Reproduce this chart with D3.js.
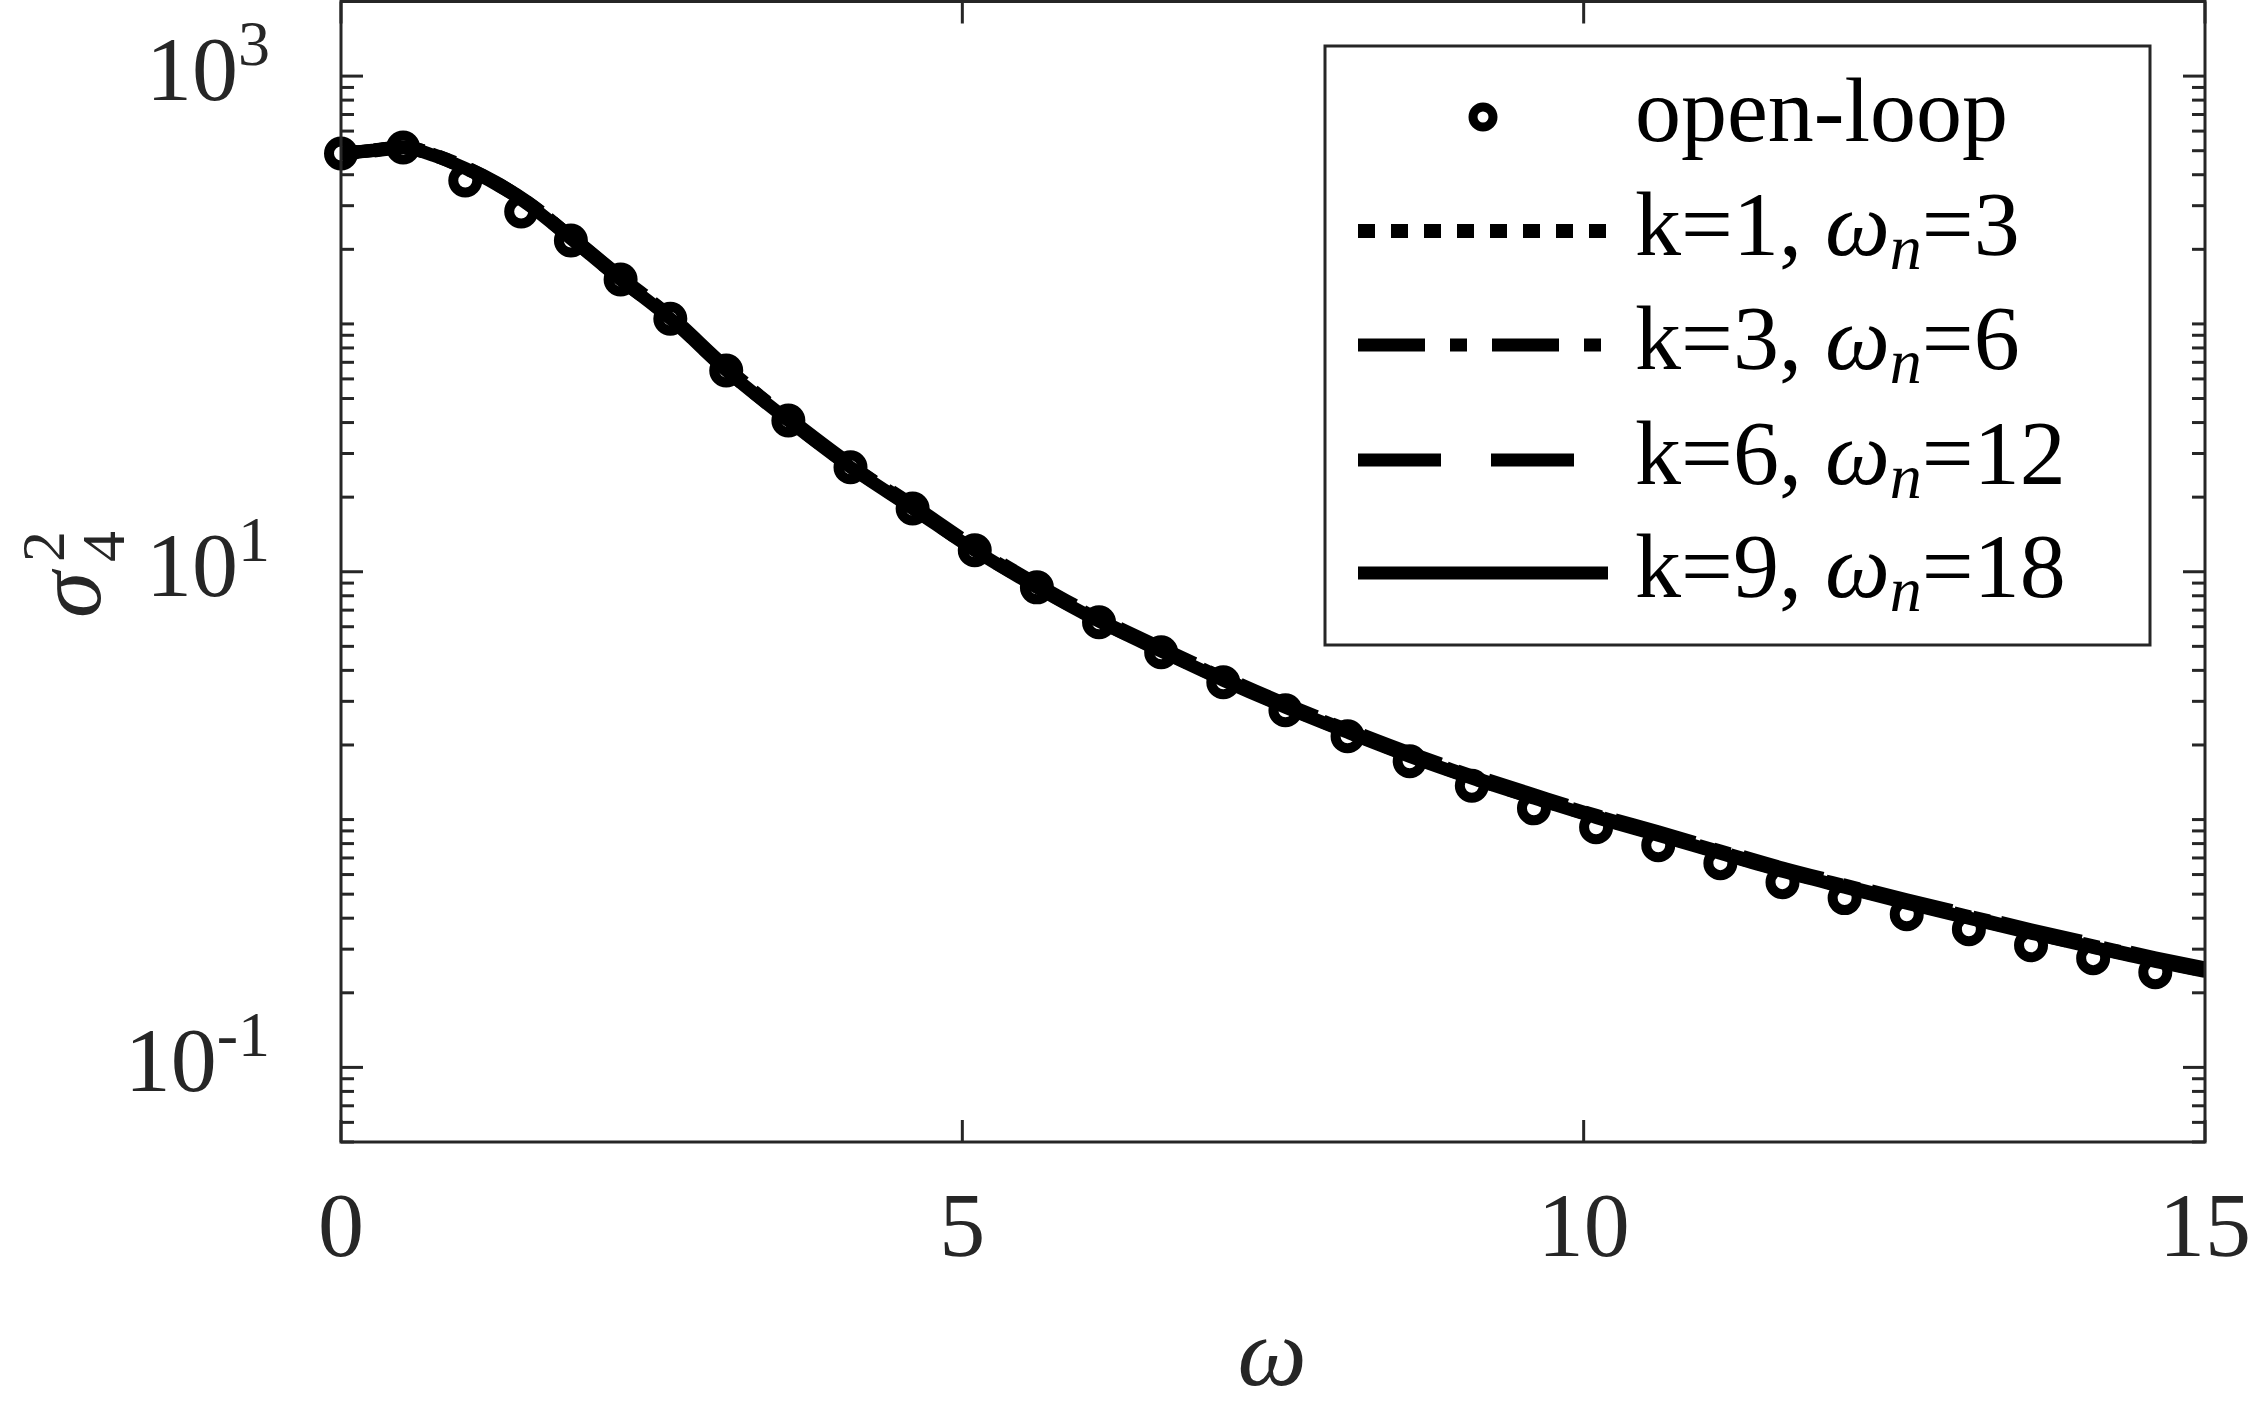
<!DOCTYPE html>
<html>
<head>
<meta charset="utf-8">
<script src="https://cdn.jsdelivr.net/npm/d3@7"></script>
<style>
  html, body { margin: 0; padding: 0; background: #fff; }
  svg { display: block; }
  text { font-family: "Liberation Serif", "Times New Roman", serif; white-space: pre; }
</style>
</head>
<body>
<svg id="chart" width="2250" height="1417"></svg>
<script>
'use strict';

/* ---- data ---- */
// open-loop markers
const olOmega = [0, 0.5, 1.0, 1.45, 1.85, 2.25, 2.65, 3.1, 3.6, 4.1, 4.6, 5.1, 5.6, 6.1, 6.6, 7.1,
                 7.6, 8.1, 8.6, 9.1, 9.6, 10.1, 10.6, 11.1, 11.6, 12.1, 12.6, 13.1, 13.6, 14.1, 14.6];
const olSigma = [487, 515, 379, 284, 217, 151, 105, 64.9, 40.8, 26.4, 18.0, 12.2, 8.65, 6.25, 4.73, 3.58,
                 2.76, 2.17, 1.72, 1.37, 1.11, 0.931, 0.787, 0.667, 0.559, 0.482, 0.415, 0.361, 0.311, 0.276, 0.242];

// closed-loop curves
const lineOmega = [0, 0.25, 0.5, 0.75, 1.0, 1.25, 1.5, 1.85, 2.25, 2.65, 3.1, 3.6, 4.1, 4.6, 5.1, 5.6, 6.1, 6.6,
                   7.1, 7.6, 8.1, 8.6, 9.1, 9.6, 10.1, 10.6, 11.1, 11.6, 12.1, 12.6, 13.1, 13.6, 14.1, 14.6, 15];
const sigmaK1 = [487, 500, 516, 480, 427, 369, 308, 223, 152, 106, 65.5, 41.2, 26.7, 18.2, 12.3, 8.74, 6.37, 4.83,
                 3.69, 2.87, 2.27, 1.82, 1.48, 1.23, 1.03, 0.874, 0.738, 0.625, 0.538, 0.465, 0.404, 0.351, 0.308, 0.271, 0.246];
const sigmaK3 = [487, 501, 517, 481, 428, 370, 309, 225, 154, 107, 66.2, 41.6, 26.9, 18.4, 12.4, 8.82, 6.44, 4.88,
                 3.72, 2.90, 2.30, 1.84, 1.50, 1.24, 1.04, 0.882, 0.746, 0.631, 0.544, 0.469, 0.408, 0.355, 0.311, 0.273, 0.249];
const sigmaK6 = [487, 502, 518, 483, 430, 372, 311, 226, 155, 108, 66.9, 42.0, 27.2, 18.6, 12.6, 8.92, 6.50, 4.93,
                 3.77, 2.93, 2.32, 1.86, 1.52, 1.26, 1.05, 0.892, 0.754, 0.638, 0.550, 0.475, 0.413, 0.359, 0.315, 0.277, 0.252];
const sigmaK9 = [487, 500, 515, 478, 424, 366, 305, 221, 151, 105, 64.9, 40.8, 26.4, 18.0, 12.2, 8.65, 6.31, 4.78,
                 3.65, 2.84, 2.25, 1.80, 1.47, 1.22, 1.02, 0.865, 0.731, 0.619, 0.533, 0.460, 0.400, 0.348, 0.305, 0.268, 0.244];

const legendK  = [1, 3, 6, 9];
const legendWn = [3, 6, 12, 18];

const xTicks = [0, 5, 10, 15];
const yLabelTicks = [0.1, 10, 1000];
const yLabelExp = ['-1', '1', '3'];

/* ---- layout ---- */
const AX = '#262626';
const FS = 92;
const plot = { left: 341, right: 2205, top: 1.5, bottom: 1142 };

const svg = d3.select('#chart');
const x = d3.scaleLinear().domain([0, 15]).range([plot.left, plot.right]);
const y = d3.scaleLog().domain([0.05, 2000]).range([plot.bottom, plot.top]);

svg.append('defs').append('clipPath').attr('id', 'plotClip')
    .append('rect')
    .attr('x', plot.left).attr('y', plot.top)
    .attr('width', plot.right - plot.left).attr('height', plot.bottom - plot.top);

/* ---- ticks (inward, mirrored on the box) ---- */
const MAJ = 22, MIN = 13;
const minorY = [];
for (let e = -2; e <= 3; e++) {
    for (let m = 1; m <= 9; m++) {
        const v = m * Math.pow(10, e);
        if (v >= 0.05 && v <= 2000 && !yLabelTicks.some(t => Math.abs(t - v) / v < 1e-9)) minorY.push(v);
    }
}
const tickG = svg.append('g').attr('stroke', AX).attr('stroke-width', 3);
minorY.forEach(v => {
    tickG.append('line').attr('x1', plot.left).attr('x2', plot.left + MIN).attr('y1', y(v)).attr('y2', y(v));
    tickG.append('line').attr('x1', plot.right).attr('x2', plot.right - MIN).attr('y1', y(v)).attr('y2', y(v));
});
yLabelTicks.forEach(v => {
    tickG.append('line').attr('x1', plot.left).attr('x2', plot.left + MAJ).attr('y1', y(v)).attr('y2', y(v));
    tickG.append('line').attr('x1', plot.right).attr('x2', plot.right - MAJ).attr('y1', y(v)).attr('y2', y(v));
});
xTicks.forEach(v => {
    tickG.append('line').attr('x1', x(v)).attr('x2', x(v)).attr('y1', plot.bottom).attr('y2', plot.bottom - MAJ);
    tickG.append('line').attr('x1', x(v)).attr('x2', x(v)).attr('y1', plot.top).attr('y2', plot.top + MAJ);
});

/* ---- data: markers first, then the four curves ---- */
const MR = 12, MW = 10;
const marks = svg.append('g');
marks.selectAll('circle')
    .data(olOmega.map((w, i) => [w, olSigma[i]]))
    .join('circle')
    .attr('cx', d => x(d[0]))
    .attr('cy', d => y(d[1]))
    .attr('r', MR)
    .attr('fill', 'none')
    .attr('stroke', '#000')
    .attr('stroke-width', MW);

const series = [
    { vals: sigmaK1, dash: '17 16', width: 14 },
    { vals: sigmaK3, dash: '67 25 17 25', width: 13 },
    { vals: sigmaK6, dash: '83 50', width: 13 },
    { vals: sigmaK9, dash: null, width: 13 }
];

const line = d3.line()
    .x(d => x(d[0]))
    .y(d => y(d[1]))
    .curve(d3.curveMonotoneX);

const lineG = svg.append('g').attr('clip-path', 'url(#plotClip)');
series.forEach(s => {
    lineG.append('path')
        .datum(lineOmega.map((w, i) => [w, s.vals[i]]))
        .attr('d', line)
        .attr('fill', 'none')
        .attr('stroke', '#000')
        .attr('stroke-width', s.width)
        .attr('stroke-dasharray', s.dash)
        .attr('stroke-linecap', 'butt')
        .attr('stroke-linejoin', 'round');
});

/* ---- axes box ---- */
svg.append('rect')
    .attr('x', plot.left).attr('y', plot.top)
    .attr('width', plot.right - plot.left).attr('height', plot.bottom - plot.top)
    .attr('fill', 'none').attr('stroke', AX).attr('stroke-width', 3);

/* ---- tick labels ---- */
xTicks.forEach(v => {
    svg.append('text')
        .attr('x', x(v)).attr('y', 1256)
        .attr('text-anchor', 'middle')
        .attr('font-size', FS).attr('fill', AX)
        .text(v);
});
yLabelTicks.forEach((v, i) => {
    const t = svg.append('text')
        .attr('x', 270).attr('y', y(v) + 24)
        .attr('text-anchor', 'end')
        .attr('font-size', FS).attr('fill', AX);
    t.append('tspan').text('10');
    t.append('tspan').attr('dy', -35).attr('font-size', 64).text(yLabelExp[i]);
});

/* ---- axis titles ---- */
svg.append('text')
    .attr('x', 1272).attr('y', 1385)
    .attr('text-anchor', 'middle')
    .attr('font-size', 98).attr('font-style', 'italic').attr('fill', AX)
    .text('ω');

const yl = svg.append('g').attr('transform', 'translate(100,574) rotate(-90)').attr('fill', AX);
yl.append('text').attr('x', -44).attr('y', 0).attr('font-size', 94).attr('font-style', 'italic').text('σ');
yl.append('text').attr('x', 12).attr('y', -36).attr('font-size', 62).text('2');
yl.append('text').attr('x', 12).attr('y', 24).attr('font-size', 62).text('4');

/* ---- legend ---- */
const lg = { left: 1325, right: 2150, top: 46, bottom: 645 };
const rowY = [117, 231, 345, 460, 573];
const sampleX0 = 1358, sampleX1 = 1608, textX = 1635;

svg.append('rect')
    .attr('x', lg.left).attr('y', lg.top)
    .attr('width', lg.right - lg.left).attr('height', lg.bottom - lg.top)
    .attr('fill', '#fff').attr('stroke', AX).attr('stroke-width', 3);

svg.append('circle')
    .attr('cx', (sampleX0 + sampleX1) / 2).attr('cy', rowY[0])
    .attr('r', 10).attr('fill', 'none').attr('stroke', '#000').attr('stroke-width', 9);
svg.append('text')
    .attr('x', textX).attr('y', rowY[0] + 24)
    .attr('font-size', FS).attr('fill', '#000')
    .text('open-loop');

series.forEach((s, i) => {
    const ry = rowY[i + 1];
    svg.append('line')
        .attr('x1', sampleX0).attr('x2', sampleX1).attr('y1', ry).attr('y2', ry)
        .attr('stroke', '#000').attr('stroke-width', s.width)
        .attr('stroke-dasharray', s.dash).attr('stroke-linecap', 'butt');
    const t = svg.append('text')
        .attr('x', textX).attr('y', ry + 24)
        .attr('font-size', FS).attr('fill', '#000');
    t.append('tspan').text(`k=${legendK[i]}, `);
    t.append('tspan').attr('font-style', 'italic').text('ω');
    t.append('tspan').attr('font-style', 'italic').attr('font-size', 64).attr('dy', 14).text('n');
    t.append('tspan').attr('dy', -14).text(`=${legendWn[i]}`);
});
</script>
</body>
</html>
